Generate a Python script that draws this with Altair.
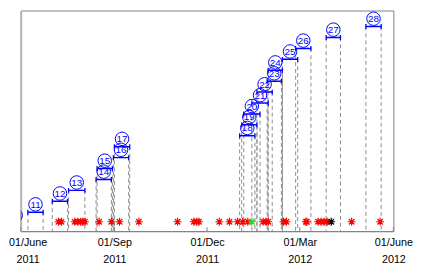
import altair as alt
import pandas as pd

# ---- data ----
ids = [10, 11, 12, 13, 14, 15, 16, 17, 18, 19, 20, 21, 22, 23, 24, 25, 26, 27, 28]
starts = ["2011-05-23", "2011-06-08", "2011-07-02", "2011-07-18", "2011-08-14", "2011-08-15",
          "2011-08-31", "2011-09-01", "2012-01-02", "2012-01-04", "2012-01-06", "2012-01-14",
          "2012-01-19", "2012-01-29", "2012-01-30", "2012-02-13", "2012-02-26", "2012-03-27",
          "2012-05-05"]
ends = ["2011-05-31", "2011-06-23", "2011-07-17", "2011-08-03", "2011-08-29", "2011-08-30",
        "2011-09-15", "2011-09-16", "2012-01-17", "2012-01-19", "2012-01-22", "2012-01-30",
        "2012-02-03", "2012-02-12", "2012-02-13", "2012-02-28", "2012-03-12", "2012-04-10",
        "2012-05-20"]

marker_dates = ["2011-07-08", "2011-07-11", "2011-07-24", "2011-07-27", "2011-07-30", "2011-08-01",
                "2011-08-03", "2011-08-17", "2011-08-29", "2011-09-06", "2011-09-25", "2011-11-02",
                "2011-11-18", "2011-11-21", "2011-11-23", "2011-12-13", "2011-12-23", "2011-12-31",
                "2012-01-05", "2012-01-10", "2012-01-14", "2012-01-25", "2012-01-28", "2012-01-30",
                "2012-02-14", "2012-02-17", "2012-03-07", "2012-03-08", "2012-03-19", "2012-03-22",
                "2012-03-25", "2012-03-28", "2012-04-01", "2012-04-21", "2012-05-19"]
marker_kinds = ["red"] * 20 + ["green"] + ["red"] * 11 + ["black"] + ["red"] * 2
marker_level = 10.13

tick_dates = ["2011-06-01", "2011-09-01", "2011-12-01", "2012-03-01", "2012-06-01"]
tick_top = ["01/June", "01/Sep", "01/Dec", "01/Mar", "01/June"]
tick_bottom = ["2011", "2011", "2011", "2012", "2012"]

# ---- tables ----
intervals = pd.DataFrame({"id": ids, "start": starts, "end": ends, "label": [str(i) for i in ids]})
markers = pd.DataFrame({"date": marker_dates, "kind": marker_kinds,
                        "rank": [{"red": 0, "green": 1, "black": 2}[k] for k in marker_kinds]})
ticks = pd.DataFrame({"date": tick_dates})

W, H = 380, 225
Y_DOM = [9.265, 29.47]


def dt(s):
    y, m, d = (int(v) for v in s.split("-"))
    return alt.DateTime(year=y, month=m, date=d, utc=True)


label_expr = ""
for d, t, b in zip(tick_dates, tick_top, tick_bottom):
    label_expr += f"utcFormat(datum.value, '%Y-%m-%d') == '{d}' ? ['{t}', '{b}'] : "
label_expr += "''"

xscale = alt.Scale(type="utc", domain=[dt(tick_dates[0]), dt(tick_dates[-1])], nice=False, padding=0)
yscale = alt.Scale(domain=Y_DOM, nice=False, zero=False, padding=0)

xaxis = alt.Axis(
    values=[dt(d) for d in tick_dates],
    labelExpr=label_expr,
    title=None, grid=False, ticks=False,
    labelFlush=False, labelOverlap=False, labelBound=False,
    labelFont="Liberation Sans", labelFontSize=11, labelColor="#000000",
    labelLineHeight=17, labelPadding=6,
    labelOffset={"condition": {"test": f"utcFormat(datum.value, '%Y-%m-%d') == '{tick_dates[0]}'",
                               "value": 7}, "value": 0},
    domainColor="#808080", domainWidth=1,
)
yaxis = alt.Axis(labels=False, ticks=False, title=None, grid=False,
                 domainColor="#b4b4b4", domainWidth=2)

base = alt.Chart(intervals)
X_start = alt.X("start:T", scale=xscale, axis=xaxis)
Y_id = alt.Y("id:Q", scale=yscale, axis=yaxis)

dash_start = base.mark_rule(clip=True, color="#8a8a8a", strokeDash=[4, 3], strokeWidth=1).encode(
    x=X_start, y=Y_id, y2=alt.datum(Y_DOM[0]))
dash_end = base.mark_rule(clip=True, color="#8a8a8a", strokeDash=[4, 3], strokeWidth=1).encode(
    x=alt.X("end:T"), y=Y_id, y2=alt.datum(Y_DOM[0]))
bars = base.mark_rule(clip=True, color="#0000ff", strokeWidth=1.5).encode(
    x=X_start, x2="end:T", y=Y_id)
CAP = "M0,-1L0,1"
cap_start = base.mark_point(clip=True, shape=CAP, filled=False, color="#0000ff", size=25,
                            strokeWidth=1.3, opacity=1).encode(x=X_start, y=Y_id)
cap_end = base.mark_point(clip=True, shape=CAP, filled=False, color="#0000ff", size=25,
                          strokeWidth=1.3, opacity=1).encode(x=alt.X("end:T"), y=Y_id)

mid = base.transform_calculate(mid="(toDate(datum.start) + toDate(datum.end)) / 2")
circles = mid.mark_point(clip=True, shape="circle", filled=False, color="#0000ff", size=190,
                         strokeWidth=1, opacity=1, yOffset=-8).encode(
    x=alt.X("mid:T"), y=Y_id)
texts = mid.mark_text(clip=True, color="#0000ff", font="Liberation Sans", fontSize=10,
                      baseline="middle", align="center", yOffset=-7.5).encode(
    x=alt.X("mid:T"), y=Y_id, text="label:N")

ASTERISK = "M0,-1L0,1M-1,0L1,0M-0.7,-0.7L0.7,0.7M-0.7,0.7L0.7,-0.7"
marks = alt.Chart(markers).mark_point(clip=True, shape=ASTERISK, filled=False, size=64,
                                      strokeWidth=1.2, opacity=1).encode(
    x=alt.X("date:T"),
    y=alt.datum(marker_level),
    color=alt.Color("kind:N", scale=alt.Scale(domain=["red", "green", "black"],
                                               range=["#ff0000", "#22dd22", "#000000"]),
                    legend=None),
    order=alt.Order("rank:Q"),
)

tick_marks = alt.Chart(ticks).mark_rule(color="#808080", strokeWidth=1).encode(
    x=alt.X("date:T"), y=alt.value(H), y2=alt.value(H - 4))

chart = alt.layer(dash_start, dash_end, bars, cap_start, cap_end, circles, texts, marks,
                  tick_marks).properties(
    width=W, height=H,
    autosize=alt.AutoSizeParams(type="none"),
    padding={"left": 13, "top": 0, "right": 20, "bottom": 35},
).configure_view(stroke="#808080", strokeWidth=1)

chart.save("out.html", embed_options={"renderer": "svg", "actions": False})
